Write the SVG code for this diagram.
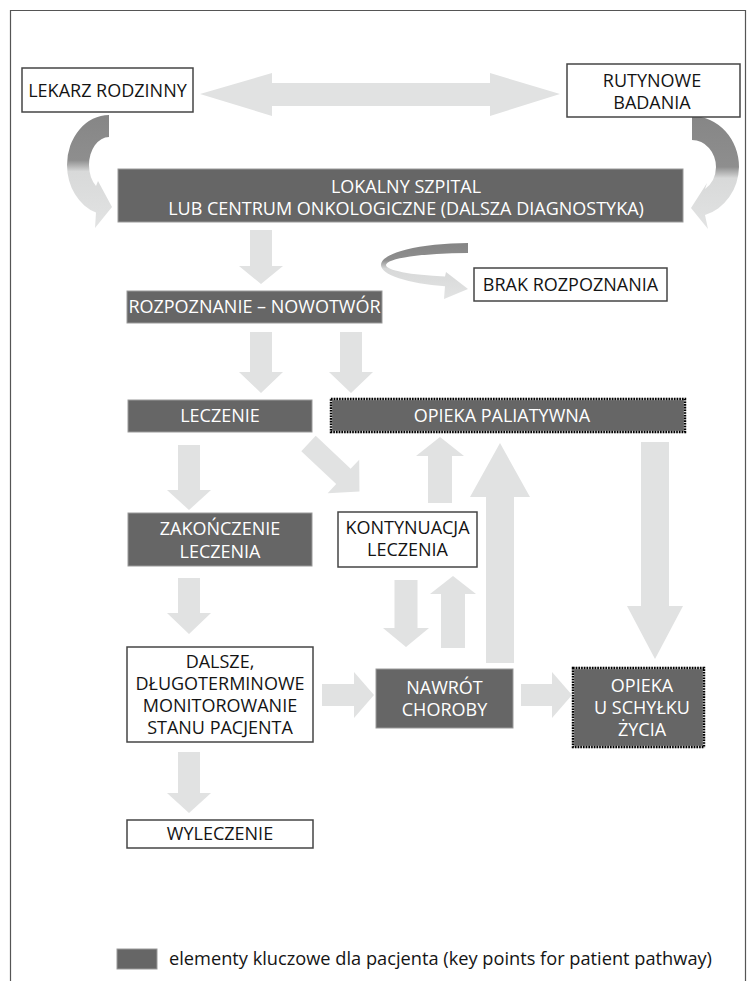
<svg xmlns="http://www.w3.org/2000/svg" width="750" height="981" viewBox="0 0 750 981">
<defs>
<style>
.arr{fill:#e1e2e2;stroke:none}
.wbox{fill:#ffffff;stroke:#454545;stroke-width:1.5}
.dbox{fill:#666666;stroke:#9a9a9a;stroke-width:1}
.dotbase{fill:#666666;stroke:#d8d8d8;stroke-width:2.4}
.dotline{fill:none;stroke:#000000;stroke-width:2.4;stroke-dasharray:1.6 1.1}
.t{font-family:"Open Sans","Liberation Sans",sans-serif;font-size:18px;text-anchor:middle}
.tb{fill:#141414}
.tw{fill:#ffffff}
</style>
<linearGradient id="gL" gradientUnits="userSpaceOnUse" x1="0" y1="115" x2="0" y2="228">
<stop offset="0" stop-color="#868686"/>
<stop offset="0.40" stop-color="#8e8e8e"/>
<stop offset="0.50" stop-color="#d8d9d9"/>
<stop offset="1" stop-color="#e2e3e3"/>
</linearGradient>
<linearGradient id="gR" gradientUnits="userSpaceOnUse" x1="0" y1="116" x2="0" y2="229">
<stop offset="0" stop-color="#868686"/>
<stop offset="0.45" stop-color="#8e8e8e"/>
<stop offset="0.55" stop-color="#d8d9d9"/>
<stop offset="1" stop-color="#e2e3e3"/>
</linearGradient>
<linearGradient id="gB" gradientUnits="userSpaceOnUse" x1="0" y1="243" x2="0" y2="300">
<stop offset="0" stop-color="#858585"/>
<stop offset="0.30" stop-color="#8e8e8e"/>
<stop offset="0.45" stop-color="#d8d9d9"/>
<stop offset="1" stop-color="#e2e3e3"/>
</linearGradient>
</defs>
<rect x="0" y="0" width="750" height="981" fill="#ffffff"/>
<path id="frame" d="M10.5,981 V10.5 H745.5 V981" fill="none" stroke="#555555" stroke-width="1.2"/>

<g id="connectors">
<polygon class="arr" points="200,94 272,73 272,83 490,83 490,73 560,94 490,116 490,106 272,106 272,116"/>
<path fill="url(#gL)" d="M109,115 A42,50 0 0 0 67,165 A42,50 0 0 0 96,212.5 L95,228 L112,207 L98,181 L96,186 A20,28 0 0 1 89,165 A20,28 0 0 1 109,137 Z"/>
<path fill="url(#gR)" d="M692,116 A47,51 0 0 1 739,167 A47,51 0 0 1 705,215 L708,229 L691,208 L707,183 L705,189 A24,27 0 0 0 716,167 A24,27 0 0 0 692,140 Z"/>
<path fill="url(#gB)" d="M468,243 A87,22 0 0 0 381,265 A87,22 0 0 0 445,286.2 L444,299 L468,289 L446,272 L445,276.5 A82,12 0 0 1 386,265 A82,12 0 0 1 468,253 Z"/>
<polygon class="arr" points="250,230 272,230 272,266 283,266 261,284 239,266 250,266"/>
<polygon class="arr" points="250,332 272,332 272,372 283,372 261,393 239,372 250,372"/>
<polygon class="arr" points="340,332 362,332 362,372 373,372 351,393 329,372 340,372"/>
<polygon class="arr" points="178,445 200,445 200,490 211,490 189,510 167,490 178,490"/>
<polygon class="arr" points="178,578 200,578 200,613 211,613 189,634 167,613 178,613"/>
<polygon class="arr" points="178,752 200,752 200,793 211,793 189,813 167,793 178,793"/>
<polygon class="arr" transform="translate(308.5,443.5) rotate(43.3)" points="0,-10.5 48,-10.5 48,-23 70,0 48,23 48,10.5 0,10.5"/>
<polygon class="arr" points="428,503 452,503 452,456 464,456 440,437 416,456 428,456"/>
<polygon class="arr" points="486,663 514,663 514,497 530,497 500,443 470,497 486,497"/>
<polygon class="arr" points="641,442 669,442 669,606 683,606 655,659 627,606 641,606"/>
<polygon class="arr" points="394.5,580 417.5,580 417.5,628 429,628 406,647 383,628 394.5,628"/>
<polygon class="arr" points="441,648 465,648 465,594 476,594 453,576 430,594 441,594"/>
<polygon class="arr" points="322,684 354,684 354,672 374,695 354,718 354,706 322,706"/>
<polygon class="arr" points="521,684 552,684 552,672 572,695 552,718 552,706 521,706"/>
</g>

<g id="lekarz">
<rect class="wbox" x="22" y="68" width="171" height="44"/>
<text class="t tb" x="107.5" y="97">LEKARZ RODZINNY</text>
</g>
<g id="rutynowe">
<rect class="wbox" x="567" y="64" width="173" height="53"/>
<text class="t tb" x="652" y="87">RUTYNOWE</text>
<text class="t tb" x="652" y="109">BADANIA</text>
</g>
<g id="lokalny">
<rect class="dbox" x="118" y="169" width="565" height="53"/>
<text class="t tw" x="406" y="193">LOKALNY SZPITAL</text>
<text class="t tw" x="406" y="215">LUB CENTRUM ONKOLOGICZNE (DALSZA DIAGNOSTYKA)</text>
</g>
<g id="rozpoznanie">
<rect class="dbox" x="127" y="291" width="255" height="32"/>
<text class="t tw" x="254.5" y="313">ROZPOZNANIE – NOWOTWÓR</text>
</g>
<g id="brak">
<rect class="wbox" x="474" y="268" width="193" height="33"/>
<text class="t tb" x="570.5" y="291">BRAK ROZPOZNANIA</text>
</g>
<g id="leczenie">
<rect class="dbox" x="128" y="400" width="184" height="32"/>
<text class="t tw" x="220" y="422">LECZENIE</text>
</g>
<g id="opieka-paliatywna">
<rect class="dotbase" x="331" y="399" width="354" height="33"/>
<rect class="dotline" x="331" y="399" width="354" height="33"/>
<text class="t tw" x="502" y="422">OPIEKA PALIATYWNA</text>
</g>
<g id="zakonczenie">
<rect class="dbox" x="128" y="513" width="184" height="53"/>
<text class="t tw" x="220" y="535">ZAKOŃCZENIE</text>
<text class="t tw" x="220" y="558">LECZENIA</text>
</g>
<g id="kontynuacja">
<rect class="wbox" x="338" y="512" width="139" height="55"/>
<text class="t tb" x="407.5" y="534">KONTYNUACJA</text>
<text class="t tb" x="407.5" y="556">LECZENIA</text>
</g>
<g id="dalsze">
<rect class="wbox" x="127" y="647" width="186" height="95"/>
<text class="t tb" x="220" y="668">DALSZE,</text>
<text class="t tb" x="220" y="690">DŁUGOTERMINOWE</text>
<text class="t tb" x="220" y="712">MONITOROWANIE</text>
<text class="t tb" x="220" y="734">STANU PACJENTA</text>
</g>
<g id="nawrot">
<rect class="dbox" x="376" y="669" width="137" height="59"/>
<text class="t tw" x="444.5" y="694">NAWRÓT</text>
<text class="t tw" x="444.5" y="716">CHOROBY</text>
</g>
<g id="opieka-schylek">
<rect class="dotbase" x="573" y="668" width="131" height="79"/>
<rect class="dotline" x="573" y="668" width="131" height="79"/>
<text class="t tw" x="642" y="692">OPIEKA</text>
<text class="t tw" x="642" y="714">U SCHYŁKU</text>
<text class="t tw" x="642" y="736">ŻYCIA</text>
</g>
<g id="wyleczenie">
<rect class="wbox" x="127" y="820" width="186" height="28"/>
<text class="t tb" x="220" y="840">WYLECZENIE</text>
</g>
<g id="legend">
<rect x="117" y="949" width="40" height="20" fill="#666666" stroke="#9a9a9a" stroke-width="1"/>
<text x="169" y="965" font-family="Open Sans, Liberation Sans, sans-serif" font-size="18" fill="#141414" textLength="543" lengthAdjust="spacingAndGlyphs">elementy kluczowe dla pacjenta (key points for patient pathway)</text>
</g>
</svg>
